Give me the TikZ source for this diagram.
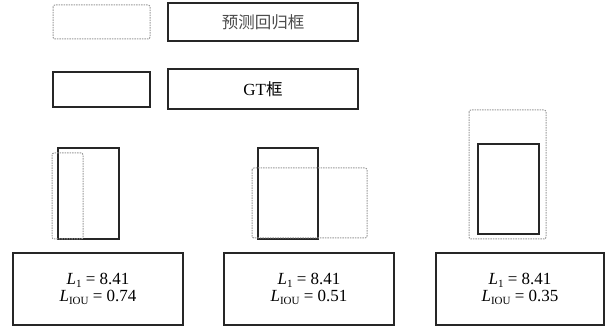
\documentclass[tikz,border=0pt]{standalone}
\usepackage{fontspec}
\setmainfont{Liberation Serif}
\newfontfamily\cjk{Noto Sans CJK SC}
\newcommand{\lsub}[1]{\textit{L}\raisebox{-0.35ex}{\fontsize{11}{11}\selectfont #1}}
\begin{document}
\begin{tikzpicture}[x=1pt,y=-1pt,
  gt/.style={draw=black!85, line width=1.2pt, fill=none},
  pred/.style={draw=black!40, line width=1pt, dash pattern=on 1.5pt off 1pt, rounded corners=2pt},
  lbl/.style={draw=black!85, line width=1.2pt, inner sep=0pt, font=\fontsize{17}{17}\selectfont, align=center},
]
\useasboundingbox (0,0) rectangle (615,328);
% legend
\draw[pred] (53,5) rectangle (150,39);
\node[lbl, minimum width=190pt, minimum height=38pt, text=black!70] (predlbl) at (263,22) {\cjk\fontsize{16.5}{17}\selectfont 预测回归框};
\draw[gt] (53,72) rectangle (150,107);
\node[lbl, minimum width=190pt, minimum height=40pt] (gtlbl) at (263,89) {GT{\cjk\fontsize{16.5}{17}\selectfont 框}};
% case 1
\draw[gt] (58,148) rectangle (119,239);
\draw[pred] (52,153) rectangle (83,239);
\node[lbl, minimum width=170pt, minimum height=72pt] (f1) at (98,289)
  {\lsub{1} = 8.41\\\lsub{IOU} = 0.74};
% case 2
\draw[gt] (258,148) rectangle (318,239);
\draw[pred] (252,168) rectangle (367,238);
\node[lbl, minimum width=170pt, minimum height=72pt] (f2) at (309,289)
  {\lsub{1} = 8.41\\\lsub{IOU} = 0.51};
% case 3
\draw[pred] (469,110) rectangle (546,239);
\draw[gt] (478,144) rectangle (539,234);
\node[lbl, minimum width=168pt, minimum height=72pt] (f3) at (520,289)
  {\lsub{1} = 8.41\\\lsub{IOU} = 0.35};
\end{tikzpicture}
\end{document}
